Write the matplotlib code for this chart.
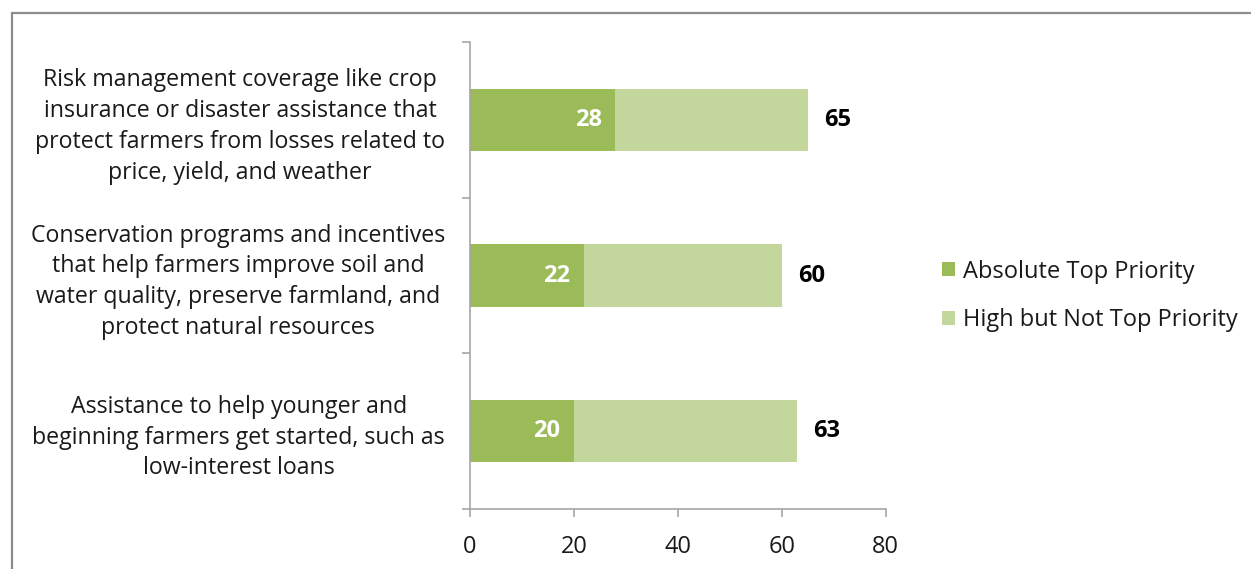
import matplotlib
matplotlib.use("Agg")
import matplotlib.pyplot as plt
from matplotlib.patches import Rectangle

plt.rcParams['font.family'] = ['Open Sans', 'DejaVu Sans']

categories = [
    "Risk management coverage like crop\ninsurance or disaster assistance that\nprotect farmers from losses related to\nprice, yield, and weather",
    "Conservation programs and incentives\nthat help farmers improve soil and\nwater quality, preserve farmland, and\nprotect natural resources",
    "Assistance to help younger and\nbeginning farmers get started, such as\nlow-interest loans",
]
top_priority = [28, 22, 20]
total_high = [65, 60, 63]
high_not_top = [t - a for t, a in zip(total_high, top_priority)]
series_names = ["Absolute Top Priority", "High but Not Top Priority"]
x_ticks = [0, 20, 40, 60, 80]

dark_green = "#9BBB59"
light_green = "#C3D69B"
axis_gray = "#A6A6A6"
text_color = "#1A1A1A"

fig = plt.figure(figsize=(12.51, 5.69), dpi=100)
ax = fig.add_axes([470 / 1251, 1 - 509 / 569, (885.7 - 470) / 1251, (509 - 42) / 569])

ypos = list(range(len(categories)))
bars_dark = ax.barh(ypos, top_priority, height=0.40, color=dark_green, label=series_names[0])
bars_light = ax.barh(ypos, high_not_top, left=top_priority, height=0.40, color=light_green,
                     label=series_names[1])

for y, v in zip(ypos, top_priority):
    ax.annotate(str(v), xy=(v, y), xytext=(-10, 0), textcoords="offset points",
                ha="right", va="center", color="white", fontsize=17, fontweight="bold")
for y, v in zip(ypos, total_high):
    ax.annotate(str(v), xy=(v, y), xytext=(11.5, 0), textcoords="offset points",
                ha="left", va="center", color="black", fontsize=17, fontweight="bold")

ax.set_xlim(0, 80)
ax.set_ylim(len(categories) - 0.5, -0.5)
ax.set_xticks(x_ticks)
ax.set_xticklabels([str(t) for t in x_ticks], fontsize=17, color=text_color)
ax.set_yticks(ypos)
ax.set_yticklabels(categories, fontsize=16.7, color=text_color, multialignment="center")
for lbl in ax.get_yticklabels():
    lbl.set_linespacing(1.38)
ax.set_yticks([i - 0.5 for i in range(len(categories) + 1)], minor=True)

ax.tick_params(axis="y", which="major", length=0, pad=18)
ax.tick_params(axis="y", which="minor", length=6, width=1.2, color=axis_gray, direction="out")
ax.tick_params(axis="x", which="major", length=6, width=1.2, color=axis_gray, direction="out", pad=13)

for side in ("top", "right"):
    ax.spines[side].set_visible(False)
for side in ("left", "bottom"):
    ax.spines[side].set_color(axis_gray)
    ax.spines[side].set_linewidth(1.2)

leg = fig.legend(handles=[bars_dark, bars_light], labels=series_names,
                 loc="center left", bbox_to_anchor=(942 / 1251, 1 - 296 / 569),
                 frameon=False, fontsize=17, handlelength=0.55, handleheight=0.55,
                 handletextpad=0.35, labelspacing=1.05, borderpad=0, borderaxespad=0)
for t in leg.get_texts():
    t.set_color(text_color)

# outer chart-area border
fig.patches.append(Rectangle((12 / 1251, -0.05), 1.2, 1 - 13 / 569 + 0.05,
                             transform=fig.transFigure, fill=False,
                             edgecolor="#8C8C8C", linewidth=1.6))

fig.savefig("out.png", dpi=100)
